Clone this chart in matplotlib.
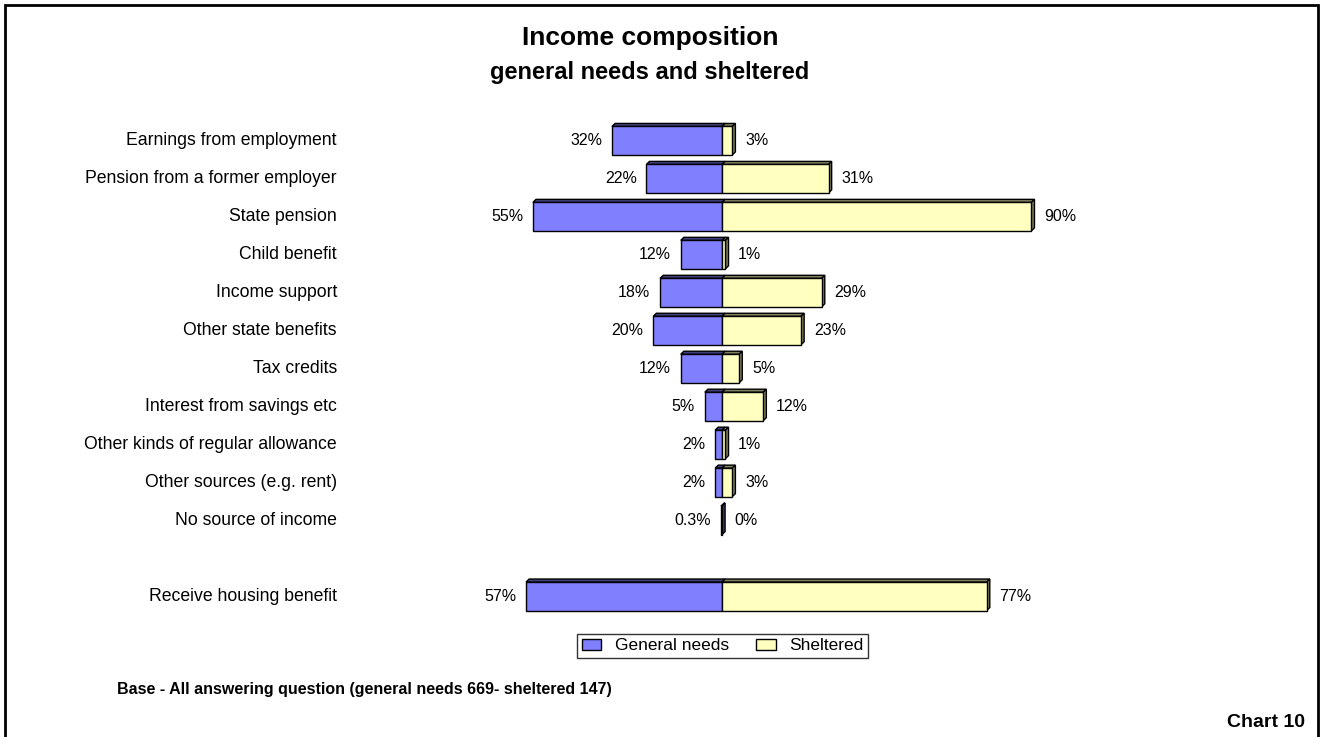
import matplotlib
matplotlib.use("Agg")
import matplotlib.pyplot as plt
import matplotlib.patches as patches
from matplotlib.patches import Patch

plt.rcParams['font.family'] = ['Liberation Sans', 'DejaVu Sans']

# datos
categorias = ["Earnings from employment", "Pension from a former employer", "State pension",
              "Child benefit", "Income support", "Other state benefits", "Tax credits",
              "Interest from savings etc", "Other kinds of regular allowance",
              "Other sources (e.g. rent)", "No source of income", "Receive housing benefit"]
posiciones = [0, 1, 2, 3, 4, 5, 6, 7, 8, 9, 10, 12]
general = [32, 22, 55, 12, 18, 20, 12, 5, 2, 2, 0.3, 57]
sheltered = [3, 31, 90, 1, 29, 23, 5, 12, 1, 3, 0, 77]
etiq_general = ["32%", "22%", "55%", "12%", "18%", "20%", "12%", "5%", "2%", "2%", "0.3%", "57%"]
etiq_sheltered = ["3%", "31%", "90%", "1%", "29%", "23%", "5%", "12%", "1%", "3%", "0%", "77%"]

col_gen = "#8080FF"
col_gen_osc = "#40407F"
col_she = "#FFFFC0"
col_she_osc = "#80805F"

fig = plt.figure(figsize=(13.21, 7.37), dpi=100)
ax = fig.add_axes([0.2733, 0.160, 0.5465, 0.680])
ax.set_xlim(-105, 105)
ax.set_ylim(12.6, -0.6)
ax.axis("off")

h = 0.75
dx = 0.9
dy = 0.08


def barra3d(x0, x1, y, fc, fc_osc, lado=True):
    top = y - h / 2
    bot = y + h / 2
    cara_sup = patches.Polygon([(x0, top), (x1, top), (x1 + dx, top - dy), (x0 + dx, top - dy)],
                               closed=True, fc=fc_osc, ec="black", lw=1)
    ax.add_patch(cara_sup)
    if lado:
        cara_lat = patches.Polygon([(x1, top), (x1, bot), (x1 + dx, bot - dy), (x1 + dx, top - dy)],
                                   closed=True, fc=fc_osc, ec="black", lw=1)
        ax.add_patch(cara_lat)
    frente = patches.Rectangle((x0, top), x1 - x0, h, fc=fc, ec="black", lw=1)
    ax.add_patch(frente)


for y, g, s, lg, ls in zip(posiciones, general, sheltered, etiq_general, etiq_sheltered):
    barra3d(-g, 0, y, col_gen, col_gen_osc, lado=(s == 0))
    if s > 0:
        barra3d(0, s, y, col_she, col_she_osc)
    ax.annotate(lg, (-g, y), xytext=(-7, 0), textcoords="offset points",
                ha="right", va="center", fontsize=11.5)
    ax.annotate(ls, (s + dx, y), xytext=(7, 0), textcoords="offset points",
                ha="left", va="center", fontsize=11.5)

# etiquetas de categoria
for y, c in zip(posiciones, categorias):
    ax.text(-112, y, c, ha="right", va="center", fontsize=12.7)

# titulos
fig.text(0.492, 0.948, "Income composition", ha="center", va="center", fontsize=19, fontweight="bold")
fig.text(0.492, 0.902, "general needs and sheltered", ha="center", va="center", fontsize=17, fontweight="bold")

# leyenda
manijas = [Patch(fc=col_gen, ec="black", label="General needs"),
           Patch(fc=col_she, ec="black", label="Sheltered")]
leg = fig.legend(handles=manijas, loc="center", bbox_to_anchor=(0.547, 0.1235), ncol=2,
                 fontsize=12.5, frameon=True, fancybox=False, edgecolor="black",
                 handlelength=1.1, handleheight=0.6, columnspacing=1.6, borderpad=0.25,
                 handletextpad=0.8)
leg.get_frame().set_linewidth(1)

fig.text(0.0886, 0.065, "Base - All answering question (general needs 669- sheltered 147)",
         ha="left", va="center", fontsize=11.5, fontweight="bold")
fig.text(0.988, 0.02, "Chart 10", ha="right", va="center", fontsize=14, fontweight="bold")

# marco
marco = patches.Rectangle((5 / 1321, -0.05), 1313 / 1321, 1.05 - 5 / 737, transform=fig.transFigure,
                          fill=False, ec="black", lw=2)
fig.add_artist(marco)

fig.savefig("out.png", dpi=100)
